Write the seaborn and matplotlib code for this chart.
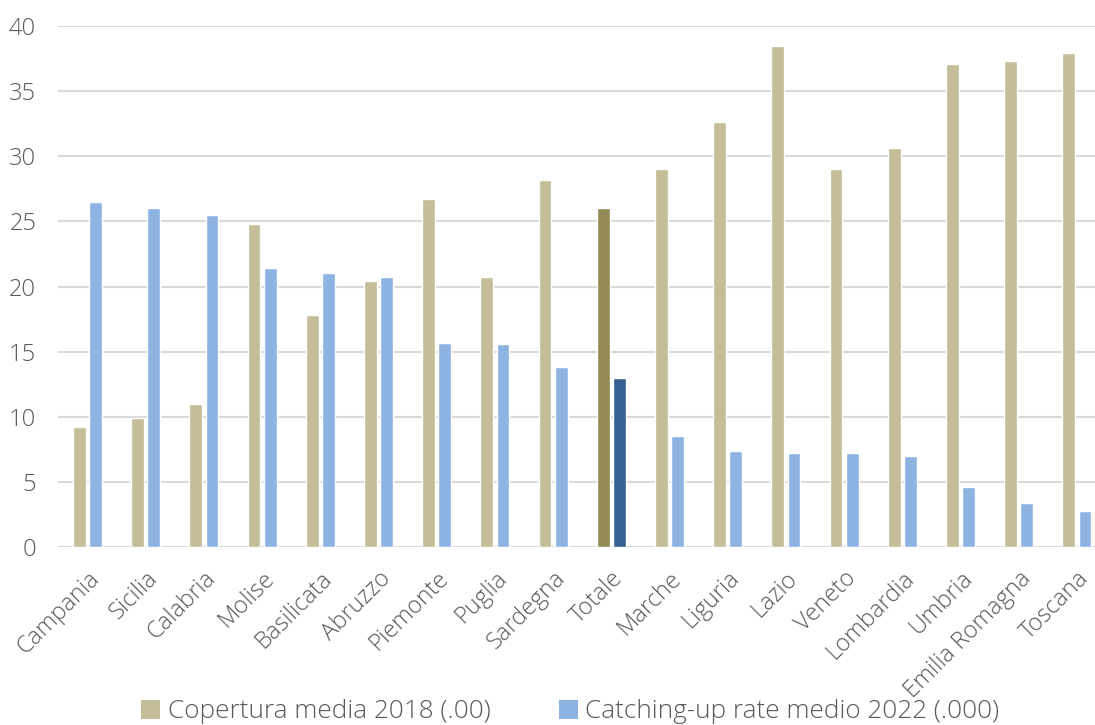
import matplotlib
matplotlib.use("Agg")
import matplotlib.pyplot as plt
import seaborn as sns
import pandas as pd
from matplotlib.patches import Patch

regions = ["Campania", "Sicilia", "Calabria", "Molise", "Basilicata", "Abruzzo",
           "Piemonte", "Puglia", "Sardegna", "Totale", "Marche", "Liguria", "Lazio",
           "Veneto", "Lombardia", "Umbria", "Emilia Romagna", "Toscana"]
copertura_2018 = [9.2, 9.9, 11.0, 24.8, 17.8, 20.4, 26.7, 20.7, 28.2, 26.0, 29.0,
                  32.6, 38.5, 29.0, 30.6, 37.1, 37.3, 37.9]
catching_up_2022 = [26.5, 26.0, 25.5, 21.4, 21.0, 20.7, 15.7, 15.6, 13.8, 13.0, 8.5,
                    7.4, 7.2, 7.2, 7.0, 4.6, 3.4, 2.8]
series_names = ["Copertura media 2018 (.00)", "Catching-up rate medio 2022 (.000)"]

df = pd.DataFrame({
    "Regione": regions * 2,
    "Valore": copertura_2018 + catching_up_2022,
    "Serie": [series_names[0]] * len(regions) + [series_names[1]] * len(regions),
})

sns.set_theme(style="white")
plt.rcParams["font.family"] = ["Open Sans", "DejaVu Sans"]
plt.rcParams["font.weight"] = "light"

tan = "#C4BD97"
blue = "#8DB3E2"
tan_dark = "#948A54"
blue_dark = "#366092"

fig = plt.figure(figsize=(10.95, 7.25), dpi=100)
ax = fig.add_axes([58.4 / 1095, 1 - 547 / 725, (1095 - 58.4) / 1095, (547 - 26) / 725])

sns.barplot(data=df, x="Regione", y="Valore", hue="Serie", order=regions,
            hue_order=series_names, palette=[tan, blue], width=0.56, gap=0.21,
            ax=ax, legend=False, saturation=1)

idx_tot = regions.index("Totale")
ax.containers[0][idx_tot].set_facecolor(tan_dark)
ax.containers[1][idx_tot].set_facecolor(blue_dark)

ax.set_ylim(0, 40)
ax.set_xlim(-0.5, (1095 - 87.5) / 58.2)
ax.set_yticks([0, 5, 10, 15, 20, 25, 30, 35, 40])
ax.yaxis.grid(True, color="#D9D9D9", linewidth=1.5)
ax.set_axisbelow(True)
for s in ax.spines.values():
    s.set_visible(False)
ax.set_xlabel("")
ax.set_ylabel("")
ax.tick_params(axis="both", length=0, colors="#595959", labelsize=17)
ax.tick_params(axis="y", pad=16, labelsize=17)
ax.tick_params(axis="x", pad=14)
plt.setp(ax.get_xticklabels(), rotation=45, ha="right", rotation_mode="anchor")

handles = [Patch(facecolor=tan, edgecolor="none"), Patch(facecolor=blue, edgecolor="none")]
leg = fig.legend(handles, series_names, loc="center", bbox_to_anchor=(0.521, 0.018),
                 ncol=2, frameon=False, fontsize=18.8, handlelength=0.72, handleheight=0.72,
                 handletextpad=0.3, columnspacing=2.6)
for t in leg.get_texts():
    t.set_color("#595959")

fig.savefig("out.png", dpi=100)
